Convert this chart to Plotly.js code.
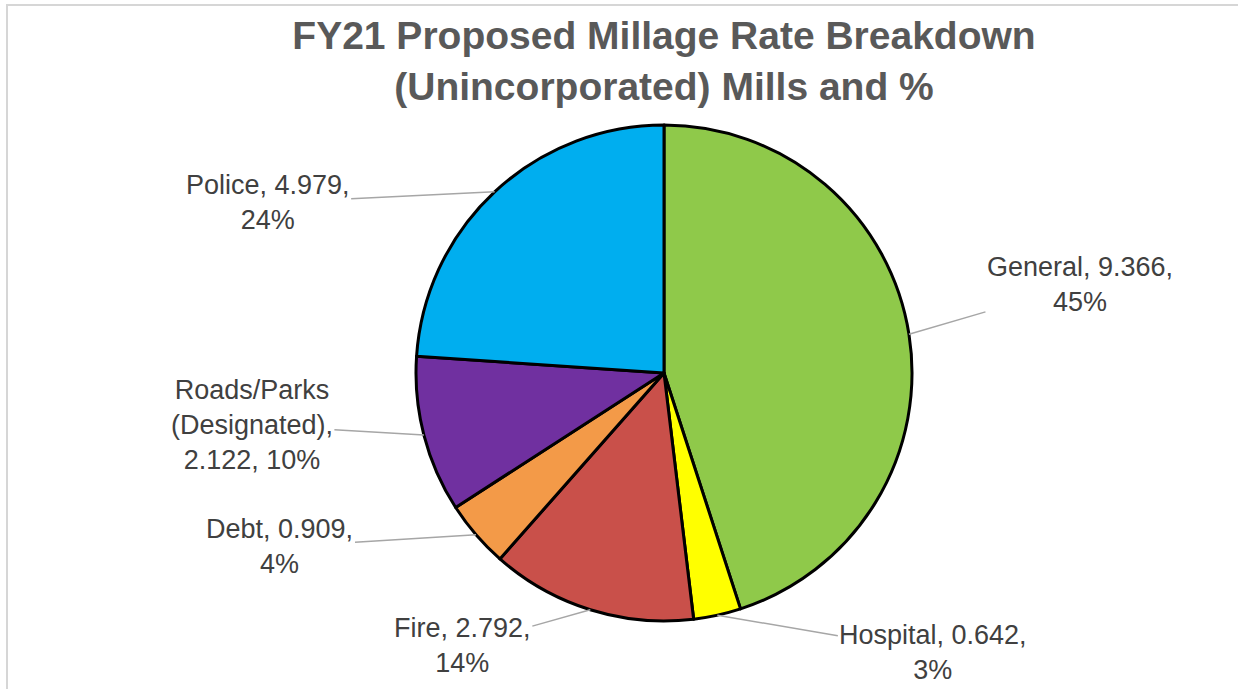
<!DOCTYPE html>
<html><head><meta charset="utf-8">
<script src="https://cdn.plot.ly/plotly-3.0.1.min.js"></script>
<style>
html,body{margin:0;padding:0;background:#fff;overflow:hidden}
#chart{width:1238px;height:689px}
#frame{position:absolute;left:6px;top:4px;width:1260px;height:720px;border-left:2px solid #d6d6d6;border-top:2px solid #d6d6d6;pointer-events:none}
</style></head><body>
<div id="chart"></div><div id="frame"></div>
<script>
// ---- data ----
const categories = ['General', 'Hospital', 'Fire', 'Debt', 'Roads/Parks<br>(Designated)', 'Police'];
const mills = [9.366, 0.642, 2.792, 0.909, 2.122, 4.979];
const percentLabels = ['45%', '3%', '14%', '4%', '10%', '24%'];
const sliceColors = ['#8FC94A', '#FFFF00', '#C9504A', '#F39A48', '#7030A0', '#00AEEF'];
// label offsets in px from the slice edge (style only)
const labelOffsets = [[171, -50], [216, 37], [-128, 36], [-196, 12], [-172, -10], [-227, 11]];

const total = mills.reduce((a, b) => a + b, 0);
const fmt = v => v.toFixed(3);
const labelText = categories.map((c, i) =>
  c.indexOf('<br>') >= 0
    ? c + ',<br>' + fmt(mills[i]) + ', ' + percentLabels[i]
    : c + ', ' + fmt(mills[i]) + ',<br>' + percentLabels[i]);

// mid-angle of each slice (clockwise from 12 o'clock)
let cum = 0;
const annotations = mills.map((v, i) => {
  const mid = (cum + v / 2) / total * 2 * Math.PI;
  cum += v;
  return {
    xref: 'paper', yref: 'paper',
    x: 0.5 + 0.5 * Math.sin(mid),
    y: 0.5 + 0.5 * Math.cos(mid),
    text: labelText[i],
    showarrow: true, arrowhead: 0, arrowwidth: 1.5, arrowcolor: '#A6A6A6',
    ax: labelOffsets[i][0], ay: labelOffsets[i][1],
    font: {family: 'Liberation Sans, Arial, sans-serif', size: 27, color: '#404040'},
    align: 'center'
  };
});

const trace = {
  type: 'pie',
  labels: categories,
  values: mills,
  sort: false,
  direction: 'clockwise',
  rotation: 0,
  textinfo: 'none',
  hoverinfo: 'label+value+percent',
  marker: {colors: sliceColors, line: {color: '#000000', width: 3}},
  showlegend: false
};

const layout = {
  width: 1238, height: 689,
  margin: {l: 416, r: 326, t: 125, b: 68},
  paper_bgcolor: '#ffffff',
  plot_bgcolor: '#ffffff',
  title: {
    text: '<b>FY21 Proposed Millage Rate Breakdown<br>(Unincorporated) Mills and %</b>',
    font: {family: 'Liberation Sans, Arial, sans-serif', size: 39, color: '#595959'},
    x: 0.5, xanchor: 'center', xref: 'paper',
    y: 1 - 49 / 689, yanchor: 'middle', yref: 'container'
  },
  annotations: annotations,
  showlegend: false
};

Plotly.newPlot('chart', [trace], layout, {displayModeBar: false, staticPlot: true});
</script>
</body></html>
